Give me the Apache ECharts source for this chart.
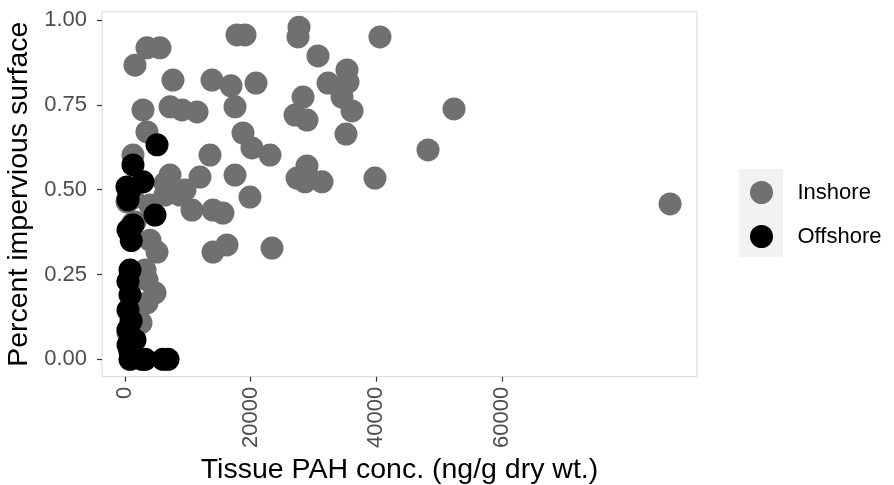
<!DOCTYPE html>
<html>
<head>
<meta charset="utf-8">
<script src="https://cdn.jsdelivr.net/npm/echarts@6/dist/echarts.min.js"></script>
<style>html,body{margin:0;padding:0;background:#fff}#chart{width:894px;height:485px}</style>
</head>
<body>
<div id="chart"></div>
<script>
// Inshore samples: tissue PAH (ng/g dry wt.) and percent impervious surface
const inshoreX = [1590,3500,5570,7640,13850,16880,20860,17830,19110,27710,27550,40600,30730,35350,32330,35510,34560,36150,28350,27070,28980,52390,35190,48250,28980,27390,28660,31370,39810,23410,86790,2870,7170,9080,11470,17520,3500,18790,20220,23090,13540,17520,11940,7170,19900,14010,15600,10670,1270,14010,16240,1270,1270,5100,3500,3500,2390,6370,8760,3980,6370,9550,480,800,480,2550,4780,3190,3980,320,1590];
const inshoreY = [0.867,0.918,0.918,0.823,0.823,0.806,0.814,0.956,0.956,0.979,0.950,0.950,0.894,0.853,0.814,0.817,0.773,0.732,0.773,0.720,0.705,0.738,0.664,0.617,0.570,0.534,0.523,0.523,0.534,0.328,0.458,0.735,0.744,0.735,0.729,0.744,0.670,0.667,0.623,0.602,0.602,0.543,0.537,0.543,0.478,0.440,0.431,0.440,0.602,0.316,0.337,0.475,0.401,0.316,0.234,0.166,0.110,0.484,0.484,0.455,0.519,0.499,0.477,0.371,0.078,0.107,0.196,0.263,0.351,0.464,0.405];
// Offshore samples
const offshoreX = [5100,1270,2870,320,4780,800,960,800,480,800,2710,6050,6850,480,1270,480,480,480,1590,800,1590,480,800,1000,3200];
const offshoreY = [0.632,0.573,0.523,0.508,0.425,0.263,0.113,0.190,0.042,0.0,0.0,0.0,0.0,0.381,0.396,0.470,0.145,0.087,0.057,0.022,0.010,0.230,0.500,0.350,0.0];
const xTicks = [0,20000,40000,60000];
const yTicks = [0,0.25,0.5,0.75,1];
const groups = ['Inshore','Offshore'];

const zip = (xs, ys) => xs.map((x, i) => [x, ys[i]]);
const FONT = 'Liberation Sans, Arial, sans-serif';

const chart = echarts.init(document.getElementById('chart'), null, {renderer:'canvas'});
chart.setOption({
  animation: false,
  backgroundColor: '#ffffff',
  graphic: [{
    type: 'rect', left: 739, top: 169, z: 0, silent: true,
    shape: {width: 44, height: 88}, style: {fill: '#f2f2f2'}
  }],
  grid: {
    left: 102, right: 197, top: 11.7, bottom: 108.3,
    show: true, borderColor: '#d9d9d9', borderWidth: 1, backgroundColor: '#ffffff',
    outerBoundsMode: 'none'
  },
  legend: {
    orient: 'vertical', left: 745, top: 176, z: 5,
    itemWidth: 44, itemHeight: 23, itemGap: 21,
    icon: 'circle',
    textStyle: {fontFamily: FONT, fontSize: 22, color: '#000', padding: [0,0,0,9]},
    data: groups
  },
  xAxis: {
    type: 'value', min: -3660, max: 91080,
    name: 'Tissue PAH conc. (ng/g dry wt.)', nameLocation: 'middle', nameGap: 78,
    nameTextStyle: {fontFamily: FONT, fontSize: 28.5, color: '#000'},
    axisLine: {show: false, onZero: false},
    splitLine: {show: false},
    axisTick: {show: true, customValues: xTicks, length: 5, lineStyle: {color: '#333', width: 1.2}},
    axisLabel: {customValues: xTicks, rotate: 90, margin: 10, fontFamily: FONT, fontSize: 22, color: '#4d4d4d',
      formatter: v => String(v)}
  },
  yAxis: {
    type: 'value', min: -0.0513, max: 1.0245,
    name: 'Percent impervious surface', nameLocation: 'middle', nameGap: 63,
    nameTextStyle: {fontFamily: FONT, fontSize: 28.5, color: '#000'},
    axisLine: {show: false, onZero: false},
    splitLine: {show: false},
    axisTick: {show: true, customValues: yTicks, length: 5, lineStyle: {color: '#333', width: 1.2}},
    axisLabel: {customValues: yTicks, margin: 15, fontFamily: FONT, fontSize: 22, color: '#4d4d4d',
      formatter: v => v.toFixed(2)}
  },
  series: [
    {name: groups[0], type: 'scatter', symbol: 'circle', symbolSize: 23, z: 2,
     itemStyle: {color: '#707070', opacity: 1}, emphasis: {disabled: true},
     data: zip(inshoreX, inshoreY)},
    {name: groups[1], type: 'scatter', symbol: 'circle', symbolSize: 23, z: 3,
     itemStyle: {color: '#000000', opacity: 1}, emphasis: {disabled: true},
     data: zip(offshoreX, offshoreY)}
  ]
});
</script>
</body>
</html>
